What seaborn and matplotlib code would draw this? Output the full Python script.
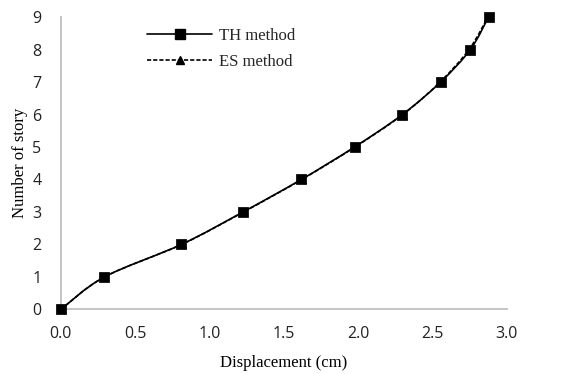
import numpy as np
import pandas as pd
import seaborn as sns
import matplotlib
matplotlib.use("Agg")
import matplotlib.pyplot as plt
from matplotlib.path import Path
from matplotlib.patches import PathPatch
from matplotlib.lines import Line2D

stories = [0, 1, 2, 3, 4, 5, 6, 7, 8, 9]
th_disp = [0.0, 0.293, 0.810, 1.225, 1.617, 1.975, 2.297, 2.554, 2.754, 2.876]
es_disp = [0.0, 0.293, 0.812, 1.228, 1.620, 1.978, 2.300, 2.550, 2.745, 2.872]
series_names = ["TH method", "ES method"]
x_ticks = [0.0, 0.5, 1.0, 1.5, 2.0, 2.5, 3.0]
y_ticks = list(range(10))

df = pd.DataFrame({
    "disp": th_disp + es_disp,
    "story": stories + stories,
    "method": [series_names[0]] * len(stories) + [series_names[1]] * len(stories),
})

sns.set_theme(style="white")
plt.rcParams['font.family'] = ['Liberation Serif', 'DejaVu Serif']

fig = plt.figure(figsize=(5.63, 3.74), dpi=100)
ax = fig.add_axes([0.108, 0.1725, 0.7925, 0.782])


def smooth_path(xs, ys):
    pts = np.column_stack([xs, ys])
    n = len(pts)
    verts = [pts[0]]
    codes = [Path.MOVETO]
    for i in range(n - 1):
        p0 = pts[i - 1] if i > 0 else pts[i]
        p1 = pts[i]
        p2 = pts[i + 1]
        p3 = pts[i + 2] if i + 2 < n else pts[i + 1]
        c1 = p1 + (p2 - p0) / 6.0
        c2 = p2 - (p3 - p1) / 6.0
        verts += [c1, c2, p2]
        codes += [Path.CURVE4] * 3
    return Path(verts, codes)


# ES (dashed, triangles) drawn first
ax.add_patch(PathPatch(smooth_path(es_disp, stories), fill=False, lw=1.2,
                       ls=(0, (2.5, 1.2)), ec="black", zorder=2, clip_on=False))
ax.add_patch(PathPatch(smooth_path(th_disp, stories), fill=False, lw=1.2,
                       ec="black", zorder=3, clip_on=False))

sns.scatterplot(data=df[df.method == series_names[1]], x="disp", y="story",
                marker="^", s=35, color="black", edgecolor="black", ax=ax,
                legend=False, zorder=4, clip_on=False)
sns.scatterplot(data=df[df.method == series_names[0]], x="disp", y="story",
                marker="s", s=45, color="black", edgecolor="black", ax=ax,
                legend=False, zorder=5, clip_on=False)

ax.set_xlim(0, 3.0)
ax.set_ylim(0, 9)
ax.set_xticks(x_ticks)
ax.set_xticklabels([f"{v:.1f}" for v in x_ticks])
ax.set_yticks(y_ticks)
ax.set_yticklabels([str(v) for v in y_ticks])
for lab in ax.get_xticklabels() + ax.get_yticklabels():
    lab.set_fontfamily(['Open Sans', 'DejaVu Sans'])
    lab.set_fontsize(11.5)
    lab.set_color("#222222")
ax.tick_params(axis="x", length=0, pad=12)
ax.tick_params(axis="y", length=0, pad=14)

for s in ["top", "right"]:
    ax.spines[s].set_visible(False)
for s in ["left", "bottom"]:
    ax.spines[s].set_color("#bfbfbf")
    ax.spines[s].set_linewidth(1.3)

ax.set_xlabel("Displacement (cm)", fontsize=12, color="black", labelpad=9)
ax.set_ylabel("Number of story", fontsize=12, color="black", labelpad=3)

handles = [
    Line2D([0], [0], color="black", lw=1.2, marker="s", markersize=7),
    Line2D([0], [0], color="black", lw=1.2, ls=(0, (2.5, 1.2)), marker="^", markersize=6),
]
leg = ax.legend(handles, series_names, loc="upper left", bbox_to_anchor=(0.16, 1.015),
                frameon=False, fontsize=12, handlelength=3.9, handletextpad=0.4,
                labelspacing=0.6)

fig.savefig("out.png", dpi=100)
